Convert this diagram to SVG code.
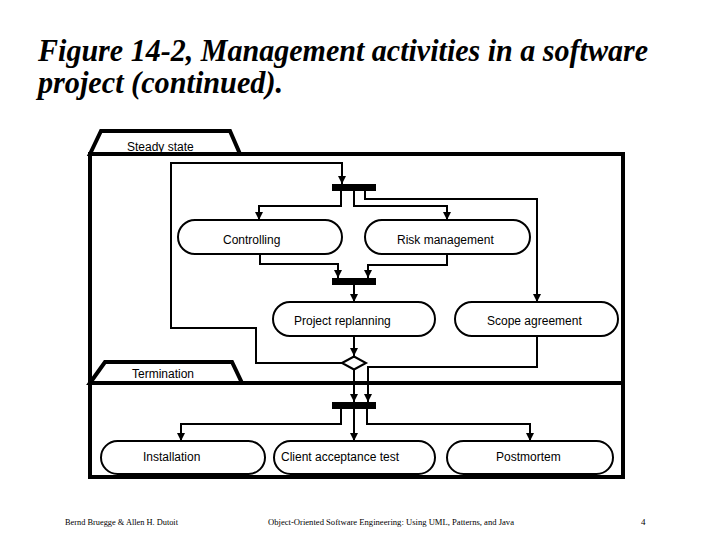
<svg xmlns="http://www.w3.org/2000/svg" width="720" height="540" viewBox="0 0 720 540">
<defs>
<style>
.title{font-family:"Liberation Serif","Times New Roman",serif;font-weight:bold;font-style:italic;font-size:31px;fill:#000}
.lbl{font-family:"Liberation Sans",Arial,sans-serif;font-size:12px;fill:#000}
.foot{font-family:"Liberation Serif","Times New Roman",serif;font-size:9px;fill:#000}
.frame{fill:none;stroke:#000;stroke-width:4}
.tab{fill:#fff;stroke:#000;stroke-width:4;stroke-linejoin:miter}
.node{fill:#fff;stroke:#000;stroke-width:2}
.bar{fill:#000}
.conn{fill:none;stroke:#000;stroke-width:2;marker-end:url(#arr)}
.plain{fill:none;stroke:#000;stroke-width:2}
</style>
<marker id="arr" viewBox="0 0 8 8" refX="8" refY="4" markerWidth="8" markerHeight="8" markerUnits="userSpaceOnUse" orient="auto">
<path d="M0,0 L8,4 L0,8 z" fill="#000"/>
</marker>
</defs>
<rect width="720" height="540" fill="#fff"/>
<text class="title" x="38" y="61" textLength="610" lengthAdjust="spacingAndGlyphs">Figure 14-2, Management activities in a software</text>
<text class="title" x="38" y="93" textLength="245" lengthAdjust="spacingAndGlyphs">project (continued).</text>

<g id="frame">
<rect class="frame" x="90" y="154" width="533" height="323"/>
<line x1="90" y1="383" x2="623" y2="383" stroke="#000" stroke-width="4"/>
</g>
<g id="steady-state">
<polygon class="tab" points="90,154 101,131 230,131 240,154"/>
<text class="lbl" x="127" y="151">Steady state</text>
</g>
<g id="termination">
<polygon class="tab" points="90,383 105,362 232,362 242,383"/>
<text class="lbl" x="132" y="378">Termination</text>
</g>

<g id="connectors">
<path class="conn" d="M342,363 H256 V328 H171 V163 H342 V184"/>
<path class="conn" d="M341,190 V206 H259 V220"/>
<path class="conn" d="M354,190 V206 H447 V220"/>
<path class="conn" d="M365,190 V199 H537 V302"/>
<path class="conn" d="M260,254 V264 H338 V278"/>
<path class="conn" d="M447,254 V265 H368 V278"/>
<path class="conn" d="M354,285 V302"/>
<path class="conn" d="M354,336 V356"/>
<path class="conn" d="M537,336 V367 H368 V402"/>
<path class="conn" d="M354,370 V402"/>
<path class="conn" d="M341,409 V424 H181 V441"/>
<path class="conn" d="M354,409 V441"/>
<path class="conn" d="M367,409 V424 H530 V441"/>
</g>

<g id="fork1"><rect class="bar" x="332" y="184" width="44" height="7"/></g>
<g id="join1"><rect class="bar" x="332" y="278" width="44" height="7"/></g>
<g id="decision"><polygon points="342,363 354,356.5 366,363 354,369.5" fill="#fff" stroke="#000" stroke-width="2"/></g>
<g id="fork2"><rect class="bar" x="332" y="402" width="44" height="7"/></g>

<g id="controlling">
<rect class="node" x="178" y="220" width="164" height="34" rx="17"/>
<text class="lbl" x="223" y="244">Controlling</text>
</g>
<g id="risk-management">
<rect class="node" x="365" y="220" width="165" height="34" rx="17"/>
<text class="lbl" x="397" y="244">Risk management</text>
</g>
<g id="project-replanning">
<rect class="node" x="273" y="302" width="162" height="34" rx="17"/>
<text class="lbl" x="294" y="325">Project replanning</text>
</g>
<g id="scope-agreement">
<rect class="node" x="455" y="302" width="163" height="34" rx="17"/>
<text class="lbl" x="487" y="325">Scope agreement</text>
</g>
<g id="installation">
<rect class="node" x="101" y="441" width="164" height="33" rx="16.5"/>
<text class="lbl" x="143" y="461">Installation</text>
</g>
<g id="client-acceptance-test">
<rect class="node" x="274" y="441" width="161" height="33" rx="16.5"/>
<text class="lbl" x="281" y="461">Client acceptance test</text>
</g>
<g id="postmortem">
<rect class="node" x="447" y="441" width="166" height="33" rx="16.5"/>
<text class="lbl" x="496" y="461">Postmortem</text>
</g>

<text class="foot" x="65" y="525" textLength="113" lengthAdjust="spacingAndGlyphs">Bernd Bruegge &amp; Allen H. Dutoit</text>
<text class="foot" x="268" y="525" textLength="246" lengthAdjust="spacingAndGlyphs">Object-Oriented Software Engineering: Using UML, Patterns, and Java</text>
<text class="foot" x="641" y="525">4</text>
</svg>
